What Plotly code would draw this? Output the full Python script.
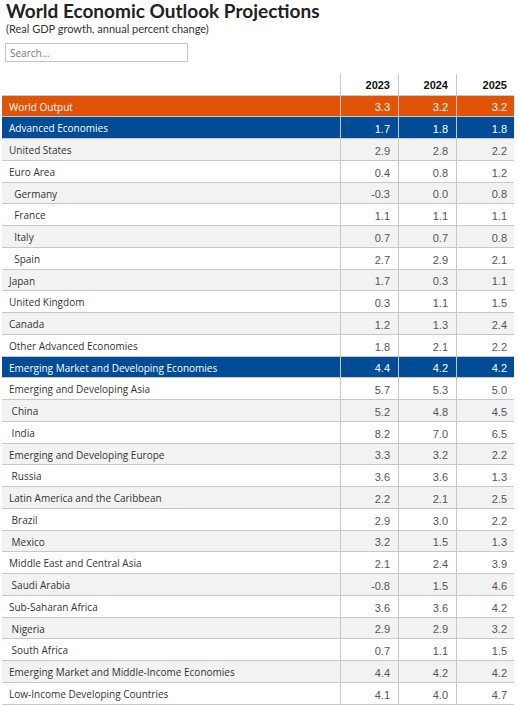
import plotly.graph_objects as go

W, H = 518, 705

years = ["2023", "2024", "2025"]
names = [
    "World Output", "Advanced Economies", "United States", "Euro Area",
    "Germany", "France", "Italy", "Spain", "Japan", "United Kingdom",
    "Canada", "Other Advanced Economies",
    "Emerging Market and Developing Economies", "Emerging and Developing Asia",
    "China", "India", "Emerging and Developing Europe", "Russia",
    "Latin America and the Caribbean", "Brazil", "Mexico",
    "Middle East and Central Asia", "Saudi Arabia", "Sub-Saharan Africa",
    "Nigeria", "South Africa", "Emerging Market and Middle-Income Economies",
    "Low-Income Developing Countries",
]
indent2 = {"Germany", "France", "Italy", "Spain"}
indent1 = {"China", "India", "Russia", "Brazil", "Mexico", "Saudi Arabia",
           "Nigeria", "South Africa"}
v2023 = [3.3, 1.7, 2.9, 0.4, -0.3, 1.1, 0.7, 2.7, 1.7, 0.3, 1.2, 1.8, 4.4, 5.7,
         5.2, 8.2, 3.3, 3.6, 2.2, 2.9, 3.2, 2.1, -0.8, 3.6, 2.9, 0.7, 4.4, 4.1]
v2024 = [3.2, 1.8, 2.8, 0.8, 0.0, 1.1, 0.7, 2.9, 0.3, 1.1, 1.3, 2.1, 4.2, 5.3,
         4.8, 7.0, 3.2, 3.6, 2.1, 3.0, 1.5, 2.4, 1.5, 3.6, 2.9, 1.1, 4.2, 4.0]
v2025 = [3.2, 1.8, 2.2, 1.2, 0.8, 1.1, 0.8, 2.1, 1.1, 1.5, 2.4, 2.2, 4.2, 5.0,
         4.5, 6.5, 2.2, 1.3, 2.5, 2.2, 1.3, 3.9, 4.6, 4.2, 3.2, 1.5, 4.2, 4.7]
highlight = {"World Output": "#E15306",
             "Advanced Economies": "#004C97",
             "Emerging Market and Developing Economies": "#004C97"}

fills, txtc, numc = [], [], []
for i, n in enumerate(names):
    if n in highlight:
        fills.append(highlight[n]); txtc.append("#ffffff"); numc.append("#ffffff")
    else:
        fills.append("#f2f2f2" if i % 2 == 0 else "#ffffff")
        txtc.append("#333333"); numc.append("#555555")

labels = []
for n in names:
    if n in indent2:
        labels.append("\u00a0\u00a0" + n)
    elif n in indent1:
        labels.append("\u00a0" + n)
    else:
        labels.append(n)

x0, x1 = 1, 515
top = 73
fig = go.Figure(go.Table(
    domain=dict(x=[x0 / W, x1 / W], y=[0, 1 - top / H]),
    columnwidth=[339, 58, 58, 59],
    header=dict(
        values=[""] + years,
        align=["left", "right", "right", "right"],
        fill_color="#ffffff",
        line=dict(color="#c8c8c8", width=1),
        font=dict(family="Liberation Sans, Arial", size=11, color="#111111", weight="bold"),
        height=22,
    ),
    cells=dict(
        values=[labels, v2023, v2024, v2025],
        format=["", ".1f", ".1f", ".1f"],
        align=["left", "right", "right", "right"],
        fill_color=[fills, fills, fills, fills],
        line=dict(color="#c8c8c8", width=1),
        font=dict(family=["Open Sans", "Liberation Sans, Arial", "Liberation Sans, Arial", "Liberation Sans, Arial"],
                  size=[10, 11, 11, 11], color=[txtc, numc, numc, numc]),
        height=21.75,
    ),
))

fig.add_annotation(x=4 / W, y=1 - 10 / H, xref="paper", yref="paper", xanchor="left", yanchor="middle",
                   text="<b>World Economic Outlook Projections</b>", showarrow=False,
                   font=dict(family="Lato", size=19, color="#222222"))
fig.add_annotation(x=4 / W, y=1 - 28 / H, xref="paper", yref="paper", xanchor="left", yanchor="middle",
                   text="(Real GDP growth, annual percent change)", showarrow=False,
                   font=dict(family="Lato", size=11, color="#333333"))
fig.add_shape(type="rect", xref="paper", yref="paper", x0=5.5 / W, x1=187.5 / W,
              y0=1 - 61.5 / H, y1=1 - 43.5 / H, line=dict(color="#c4c4c4", width=1), fillcolor="#ffffff")
fig.add_annotation(x=8 / W, y=1 - 52.5 / H, xref="paper", yref="paper", xanchor="left", yanchor="middle",
                   text="Search...", showarrow=False, font=dict(family="Open Sans", size=10, color="#777777"))
# hide top border of header and the outer side borders
fig.add_shape(type="line", xref="paper", yref="paper", x0=0, x1=1, y0=1 - top / H, y1=1 - top / H,
              line=dict(color="#ffffff", width=2), layer="above")
fig.add_shape(type="line", xref="paper", yref="paper", x0=x0 / W, x1=x0 / W, y0=0, y1=1 - top / H,
              line=dict(color="#ffffff", width=2), layer="above")
fig.add_shape(type="line", xref="paper", yref="paper", x0=x1 / W, x1=x1 / W, y0=0, y1=1 - top / H,
              line=dict(color="#ffffff", width=2), layer="above")

fig.update_layout(width=W, height=H, margin=dict(l=0, r=0, t=0, b=0),
                  paper_bgcolor="#ffffff", plot_bgcolor="#ffffff")
fig.write_html("out.html", config={"displayModeBar": False},
               post_script="document.body.style.margin='0';")
